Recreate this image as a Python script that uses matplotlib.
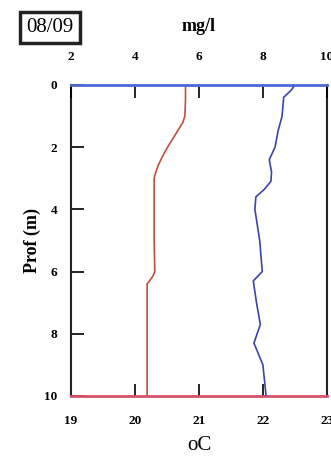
import numpy as np
import matplotlib
matplotlib.use("Agg")
import matplotlib.pyplot as plt

plt.rcParams['font.family'] = ['Liberation Serif', 'DejaVu Serif']

# temperature profile (oC) vs depth (m)
temp_depth = [0, 0.5, 1.0, 1.2, 1.5, 1.8, 2.0, 2.3, 2.6, 2.9, 3.0, 4.0, 5.0, 6.0, 6.15, 6.4, 7.0, 8.0, 9.0, 10.0]
temp_val = [20.79, 20.79, 20.78, 20.75, 20.66, 20.57, 20.51, 20.43, 20.36, 20.31, 20.30, 20.30, 20.30, 20.31, 20.28, 20.19, 20.19, 20.19, 20.19, 20.19]

# dissolved oxygen (mg/l) vs depth (m)
do_depth = [0, 0.15, 0.4, 1.0, 1.5, 2.0, 2.4, 2.8, 3.1, 3.35, 3.6, 4.0, 5.0, 6.0, 6.3, 7.0, 7.7, 8.3, 9.0, 10.0]
do_val = [9.0, 8.9, 8.65, 8.6, 8.47, 8.38, 8.2, 8.27, 8.25, 8.05, 7.78, 7.75, 7.9, 7.98, 7.7, 7.8, 7.92, 7.72, 8.0, 8.1]

fig = plt.figure(figsize=(3.31, 4.59), dpi=100)
ax = fig.add_axes([0.2145, 0.1373, 0.773, 0.6776])

ax.plot(temp_val, temp_depth, color='#c0503a', lw=1.2)
ax.set_xlim(19, 23)
ax.set_ylim(10, 0)
ax.set_xticks([19, 20, 21, 22, 23])
ax.set_xticklabels(['19', '20', '21', '22', '23'])
ax.set_yticks([0, 2, 4, 6, 8, 10])
ax.tick_params(axis='x', direction='in', length=9, width=1.2, pad=14, labelsize=9.5)
ax.tick_params(axis='y', direction='in', length=9, width=1.2, pad=10, labelsize=9.5)
for lab in ax.get_xticklabels() + ax.get_yticklabels():
    lab.set_fontweight('bold')
ax.set_xlabel('oC', fontsize=15, labelpad=6)
ax.set_ylabel('Prof (m)', fontsize=13, fontweight='bold', labelpad=2)
for s in ['left', 'right']:
    ax.spines[s].set_linewidth(1.5)
    ax.spines[s].set_color('#222222')
ax.spines['bottom'].set_color('#d8506a')
ax.spines['bottom'].set_linewidth(2)

ax2 = ax.twiny()
ax2.plot(do_val, do_depth, color='#3a45a8', lw=1.2)
ax2.set_xlim(2, 10)
ax2.set_xticks([2, 4, 6, 8, 10])
ax2.tick_params(axis='x', direction='in', length=9, width=1.2, pad=16, labelsize=9.5)
for lab in ax2.get_xticklabels():
    lab.set_fontweight('bold')
ax2.spines['top'].set_color('#4a6ad8')
ax2.spines['top'].set_linewidth(2)
ax2.spines['bottom'].set_visible(False)
for s in ['left', 'right']:
    ax2.spines[s].set_visible(False)
ax2.set_xlabel('mg/l', fontsize=13, fontweight='bold', labelpad=14)

fig.text(0.150, 0.940, '08/09', fontsize=15, ha='center', va='center',
         bbox=dict(boxstyle='square,pad=0.3', fc='white', ec='#222222', lw=2.5))

fig.savefig('out.png', dpi=100)
